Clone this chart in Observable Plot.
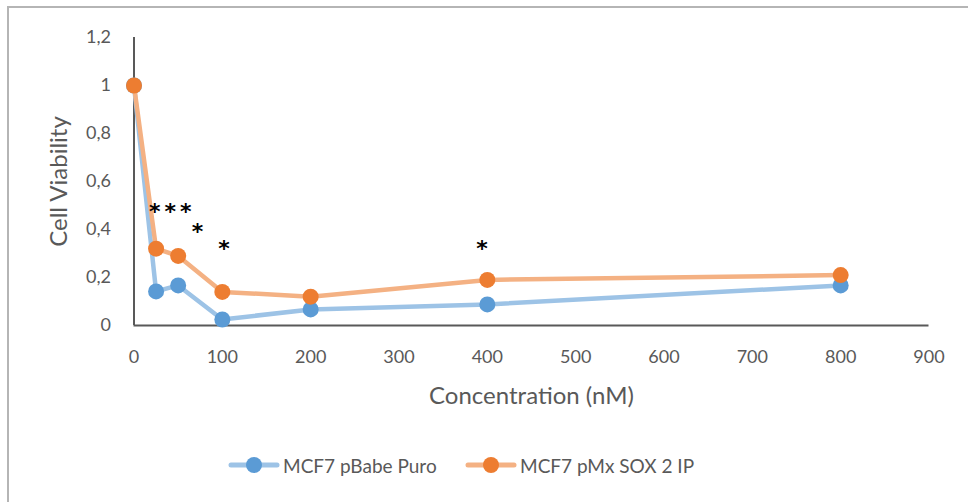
<!DOCTYPE html>
<html>
<head>
<meta charset="utf-8">
<script src="https://cdn.jsdelivr.net/npm/d3@7"></script>
<script src="https://cdn.jsdelivr.net/npm/@observablehq/plot@0.6"></script>
<style>
  html, body { margin: 0; padding: 0; background: #fff; }
  #wrap { position: relative; width: 968px; height: 502px; overflow: hidden; font-family: Lato, "Open Sans", sans-serif; }
  #frame { position: absolute; left: 7px; top: 6px; width: 1000px; height: 600px; border-top: 2px solid #b5b5b5; border-left: 2px solid #b5b5b5; box-sizing: border-box; }
  #chart { position: absolute; left: 0; top: 0; }
  #legend { position: absolute; left: 0; top: 451px; width: 968px; height: 28px; }
  .item { position: absolute; top: 0; display: flex; align-items: center; font-size: 19px; color: #595959; white-space: nowrap; }
  .item svg { margin-right: 3px; display: block; }
  .stars text { letter-spacing: 4px; }
</style>
</head>
<body>
<div id="wrap">
  <div id="frame"></div>
  <div id="chart"></div>
  <div id="legend"></div>
</div>
<script>
// Data
const concentrations = [0, 25, 50, 100, 200, 400, 800];
const puroValues = [1, 0.142, 0.167, 0.025, 0.067, 0.088, 0.167];
const sox2Values = [1, 0.32, 0.29, 0.14, 0.12, 0.19, 0.21];
const seriesNames = ["MCF7 pBabe Puro", "MCF7 pMx SOX 2 IP"];
const xTicks = [0, 100, 200, 300, 400, 500, 600, 700, 800, 900];
const yTicks = [0, 0.2, 0.4, 0.6, 0.8, 1, 1.2];
const starLabels = ["***", "*", "*", "*"];
const starX = [41, 72, 102, 394];
const starY = [0.47, 0.385, 0.315, 0.315];

const lineColors = ["#9dc3e6", "#f4b183"];
const dotColors = ["#5b9bd5", "#ed7d31"];

const puro = concentrations.map((c, i) => ({conc: c, v: puroValues[i]}));
const sox2 = concentrations.map((c, i) => ({conc: c, v: sox2Values[i]}));
const stars = starLabels.map((s, i) => ({label: s, x: starX[i], y: starY[i]}));

const fmt = d => String(Math.round(d * 10) / 10).replace(".", ",");

const plot = Plot.plot({
  width: 968,
  height: 430,
  marginLeft: 133.5,
  marginRight: 39.5,
  marginTop: 37,
  marginBottom: 105,
  style: {fontFamily: "Lato, 'Open Sans', sans-serif", background: "transparent"},
  x: {domain: [0, 900]},
  y: {domain: [0, 1.2]},
  marks: [
    Plot.axisX({ticks: xTicks, tickSize: 0, tickPadding: 25, fontSize: 18, color: "#595959", tickFormat: d => String(d), label: null}),
    Plot.axisY({ticks: yTicks, tickSize: 0, tickPadding: 23, fontSize: 18, color: "#595959", tickFormat: fmt, label: null}),
    Plot.ruleY([0], {x1: 0, x2: 900, stroke: "#595959", strokeWidth: 2}),
    Plot.ruleX([0], {y1: 0, y2: 1.2, stroke: "#595959", strokeWidth: 2}),
    Plot.line(puro, {x: "conc", y: "v", stroke: lineColors[0], strokeWidth: 4.5}),
    Plot.dot(puro, {x: "conc", y: "v", fill: dotColors[0], r: 8}),
    Plot.line(sox2, {x: "conc", y: "v", stroke: lineColors[1], strokeWidth: 4.5}),
    Plot.dot(sox2, {x: "conc", y: "v", fill: dotColors[1], r: 8}),
    Plot.text(stars, {x: "x", y: "y", text: "label", fontSize: 22, fontWeight: "bold", fontFamily: "DejaVu Sans", fill: "#000", lineAnchor: "middle", dy: -1, dx: 2, className: "stars"}),
    Plot.text(["Concentration (nM)"], {frameAnchor: "bottom", dy: 71, fontSize: 24, fill: "#595959", lineAnchor: "middle"}),
    Plot.text(["Cell Viability"], {frameAnchor: "left", textAnchor: "middle", dx: -75, rotate: -90, fontSize: 24, fill: "#595959", lineAnchor: "middle"})
  ]
});
document.getElementById("chart").appendChild(plot);

// Legend
const legend = document.getElementById("legend");
const legendLeft = [228, 465];
seriesNames.forEach((name, i) => {
  const item = document.createElement("div");
  item.className = "item";
  item.style.left = legendLeft[i] + "px";
  item.innerHTML = `<svg width="52" height="28"><line x1="3" x2="49" y1="14" y2="14" stroke="${lineColors[i]}" stroke-width="5" stroke-linecap="round"/><circle cx="26" cy="14" r="8" fill="${dotColors[i]}"/></svg><span>${name}</span>`;
  legend.appendChild(item);
});
</script>
</body>
</html>
